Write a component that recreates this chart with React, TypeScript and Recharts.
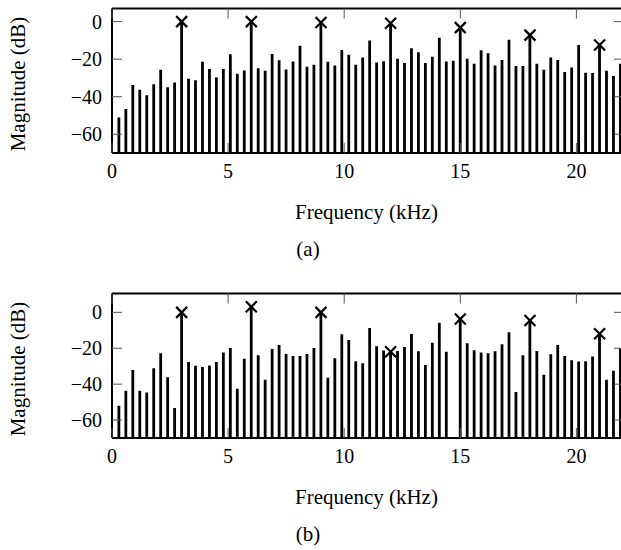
import { ComposedChart, Bar, Scatter, XAxis, YAxis, ReferenceLine } from 'recharts';

// frequency bins (kHz)
const FREQ = [
  0.3, 0.6, 0.9, 1.2, 1.5, 1.8, 2.1, 2.4, 2.7, 3,
  3.3, 3.6, 3.9, 4.2, 4.5, 4.8, 5.1, 5.4, 5.7, 6,
  6.3, 6.6, 6.9, 7.2, 7.5, 7.8, 8.1, 8.4, 8.7, 9,
  9.3, 9.6, 9.9, 10.2, 10.5, 10.8, 11.1, 11.4, 11.7, 12,
  12.3, 12.6, 12.9, 13.2, 13.5, 13.8, 14.1, 14.4, 14.7, 15,
  15.3, 15.6, 15.9, 16.2, 16.5, 16.8, 17.1, 17.4, 17.7, 18,
  18.3, 18.6, 18.9, 19.2, 19.5, 19.8, 20.1, 20.4, 20.7, 21,
  21.3, 21.6, 21.9,
];

// magnitude (dB), panel (a)
const MAG_A = [
  -51.1, -46.6, -33.7, -36.3, -39.2, -33.3, -25.7, -34.9, -32.4, 0,
  -30.5, -31.2, -21.4, -25.3, -29.8, -25.2, -17.4, -27.8, -26.1, 0,
  -24.8, -26.2, -17.2, -20.6, -25.5, -21.3, -12.9, -24.1, -23.0, -0.5,
  -21.4, -23.4, -15.1, -17.7, -23.0, -19.1, -10.1, -21.8, -21.1, -0.9,
  -19.8, -22.0, -14.2, -16.3, -22.0, -18.7, -8.6, -21.3, -20.9, -3.2,
  -19.8, -22.5, -15.2, -16.8, -23.4, -20.4, -9.7, -23.6, -23.6, -7.2,
  -22.5, -25.7, -19.1, -20.4, -26.9, -24.5, -12.4, -27.3, -27.4, -12.4,
  -26.2, -29.0, -22.5,
];

// magnitude (dB), panel (b); 14.7 kHz is below the axis floor
const MAG_B = [
  -52.1, -43.7, -32.1, -43.7, -44.7, -31.1, -22.8, -36.1, -53.3, 0,
  -27.6, -29.8, -30.4, -29.6, -27.6, -22.4, -19.8, -42.6, -25.9, 3.1,
  -23.9, -37.6, -20.4, -18.2, -23.2, -24.3, -24.3, -23.2, -19.8, 0,
  -36.5, -25.6, -12.2, -15.4, -27.2, -28.3, -8.7, -18.9, -21.3, -21.9,
  -21.5, -19.3, -12.1, -21.7, -29.3, -17.0, -5.8, -22.0, -80, -3.7,
  -17.2, -21.1, -22.4, -22.8, -21.7, -17.8, -11.1, -44.4, -23.9, -4.5,
  -21.5, -34.8, -23.3, -18.2, -24.3, -26.7, -27.4, -27.2, -24.6, -11.9,
  -37.6, -32.6, -20.0,
];

// harmonics marked with a cross
const HARMONICS = [3, 6, 9, 12, 15, 18, 21];

const X_TICKS = [0, 5, 10, 15, 20];
const Y_TICKS = [-60, -40, -20, 0];
const Y_MIN = -70;
const X_MAX = 22.05;

const CHART_W = 624;
const Y_AXIS_W = 112;
const PLOT_W = CHART_W - Y_AXIS_W;
const PLOT_H = 144.5;
const TICK_LEN = 10;
const TICK_COLOR = '#555';

const FONT = '"Liberation Serif", "Times New Roman", serif';
const fmt = (v: number) => (v < 0 ? `\u2212${-v}` : `${v}`);

// bottom tick label plus inward tick marks on bottom and top edges
function XTick(props: any) {
  const { x, y, payload } = props;
  const axisY = y - 10;
  const topY = axisY - PLOT_H;
  return (
    <g>
      <line x1={x} x2={x} y1={axisY} y2={axisY - TICK_LEN} stroke={TICK_COLOR} />
      <line x1={x} x2={x} y1={topY} y2={topY + TICK_LEN} stroke={TICK_COLOR} />
      <text x={x} y={y} dy="0.74em" textAnchor="middle" fontFamily={FONT} fontSize={20} fill="#000">
        {fmt(payload.value)}
      </text>
    </g>
  );
}

// left tick label plus inward tick marks on left and right edges
function YTick(props: any) {
  const { x, y, payload } = props;
  const axisX = x + 10;
  const rightX = axisX + PLOT_W;
  return (
    <g>
      <line x1={axisX} x2={axisX + TICK_LEN} y1={y} y2={y} stroke={TICK_COLOR} />
      <line x1={rightX} x2={rightX - TICK_LEN} y1={y} y2={y} stroke={TICK_COLOR} />
      <text x={x} y={y} dy="0.35em" textAnchor="end" fontFamily={FONT} fontSize={20} fill="#000">
        {fmt(payload.value)}
      </text>
    </g>
  );
}

function Cross(props: any) {
  const { cx, cy } = props;
  if (cx == null || cy == null) return null;
  const s = 5.5;
  return (
    <g stroke="#000" strokeWidth={2.2}>
      <line x1={cx - s} y1={cy - s} x2={cx + s} y2={cy + s} />
      <line x1={cx - s} y1={cy + s} x2={cx + s} y2={cy - s} />
    </g>
  );
}

const label: React.CSSProperties = {
  position: 'absolute',
  transform: 'translate(-50%, -50%)',
  whiteSpace: 'nowrap',
  fontFamily: FONT,
  fontSize: 21,
  lineHeight: 1,
  color: '#000',
};

function Panel({ values, yMax, top, caption }: { values: number[]; yMax: number; top: number; caption: string }) {
  const rows = FREQ.map((f, i) => ({ f, v: values[i] }));
  const peaks = rows.filter((r) => HARMONICS.includes(r.f));
  const axisLine = { stroke: '#000', strokeWidth: 2 };

  return (
    <>
      <div style={{ position: 'absolute', left: 0, top }}>
        <ComposedChart width={CHART_W} height={193} data={rows} margin={{ top: 8.5, right: 0, bottom: 0, left: 0 }}>
          <XAxis
            dataKey="f" type="number" domain={[0, X_MAX]} ticks={X_TICKS} allowDataOverflow
            axisLine={axisLine} tickLine={false} tickSize={0} tickMargin={10} height={40}
            tick={<XTick />} interval={0}
          />
          <YAxis
            type="number" domain={[Y_MIN, yMax]} ticks={Y_TICKS} allowDataOverflow
            axisLine={axisLine} tickLine={false} tickSize={0} tickMargin={10} width={Y_AXIS_W}
            tick={<YTick />} interval={0}
          />
          <ReferenceLine y={yMax} stroke="#000" strokeWidth={2} />
          <ReferenceLine x={X_MAX} stroke="#000" strokeWidth={2} />
          <Bar
            dataKey={(d: any) => [Y_MIN, d.v]} fill="#000" barSize={2.8}
            isAnimationActive={false}
          />
          <Scatter data={peaks} dataKey="v" shape={<Cross />} isAnimationActive={false} />
        </ComposedChart>
      </div>
      <div style={{ ...label, left: 18, top: top + 84, transform: 'translate(-50%, -50%) rotate(-90deg)' }}>
        Magnitude (dB)
      </div>
      <div style={{ ...label, left: 366.5, top: top + 212 }}>Frequency (kHz)</div>
      <div style={{ ...label, left: 308, top: top + 249 }}>{caption}</div>
    </>
  );
}

export default function App() {
  return (
    <div
      style={{
        position: 'absolute', left: 0, top: 0, width: 621, height: 550,
        overflow: 'hidden', background: '#fff',
      }}
    >
      <Panel values={MAG_A} yMax={7} top={0} caption="(a)" />
      <Panel values={MAG_B} yMax={10.5} top={285} caption="(b)" />
    </div>
  );
}
